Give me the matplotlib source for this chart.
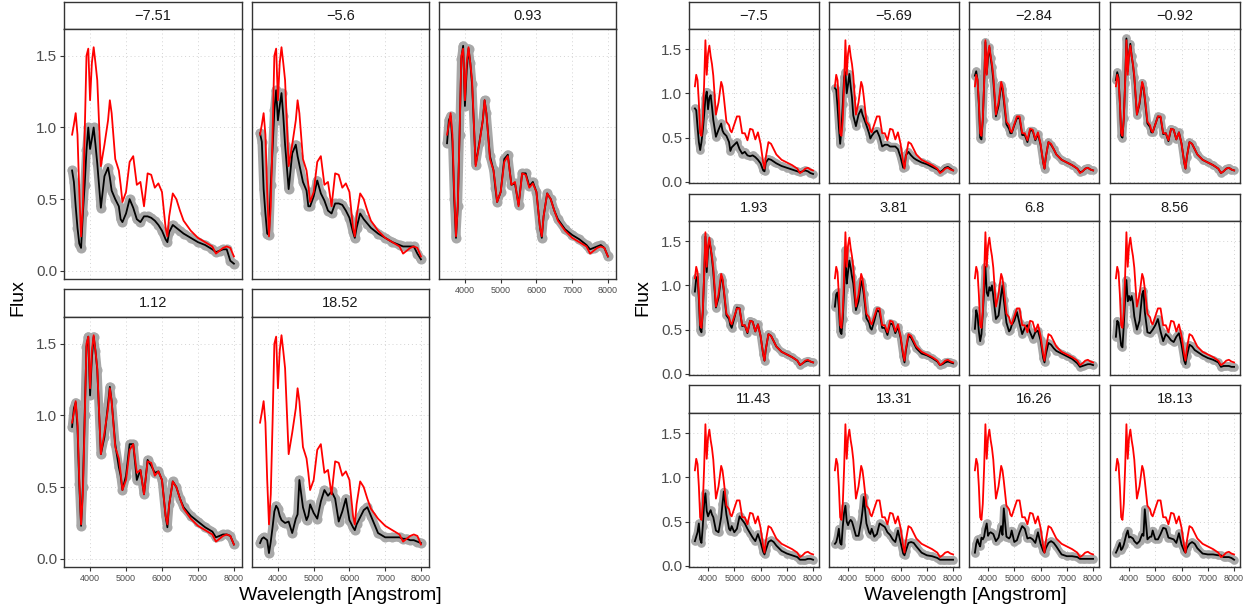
import matplotlib.pyplot as plt

plt.rcParams['font.family'] = ['Liberation Sans', 'DejaVu Sans']

# wavelength grid shared by every spectrum (Angstrom)
wave = [3500, 3550, 3600, 3650, 3700, 3750, 3800, 3850, 3900, 3950,
        4000, 4050, 4100, 4150, 4200, 4300, 4400, 4500, 4550, 4600,
        4700, 4800, 4850, 4900, 5000, 5100, 5200, 5300, 5400, 5500,
        5600, 5700, 5800, 5900, 6000, 6100, 6150, 6200, 6300, 6400,
        6500, 6600, 6800, 7000, 7200, 7400, 7500, 7600, 7700, 7800,
        7900, 8000]

# template spectra (red)
model_left = [0.95, 1.02, 1.10, 0.95, 0.55, 0.24, 0.45, 0.95, 1.50, 1.55,
              1.19, 1.45, 1.56, 1.45, 1.33, 0.73, 0.88, 1.05, 1.19, 1.10,
              0.78, 0.70, 0.60, 0.48, 0.55, 0.76, 0.80, 0.60, 0.62, 0.45,
              0.68, 0.67, 0.58, 0.61, 0.55, 0.30, 0.24, 0.38, 0.54, 0.50,
              0.42, 0.35, 0.28, 0.23, 0.20, 0.17, 0.12, 0.14, 0.16, 0.17,
              0.16, 0.10]

model_right = [1.08, 1.21, 1.15, 0.90, 0.55, 0.52, 0.70, 1.10, 1.60, 1.21,
               1.45, 1.54, 1.42, 1.33, 1.20, 0.76, 0.90, 1.13, 1.08, 0.96,
               0.68, 0.64, 0.58, 0.56, 0.65, 0.74, 0.74, 0.55, 0.55, 0.47,
               0.60, 0.59, 0.48, 0.56, 0.43, 0.22, 0.15, 0.28, 0.45, 0.43,
               0.37, 0.31, 0.25, 0.22, 0.19, 0.15, 0.10, 0.12, 0.15, 0.16,
               0.14, 0.13]

# observed spectra, left set
obs_m751 = [0.70, 0.62, 0.45, 0.30, 0.19, 0.16, 0.40, 0.60, 0.84, 1.00,
            0.85, 0.92, 1.00, 0.88, 0.75, 0.44, 0.66, 0.72, 0.65, 0.56,
            0.50, 0.45, 0.36, 0.34, 0.40, 0.50, 0.44, 0.36, 0.34, 0.38,
            0.38, 0.37, 0.35, 0.32, 0.28, 0.22, 0.20, 0.27, 0.32, 0.30,
            0.28, 0.26, 0.23, 0.20, 0.18, 0.15, 0.13, 0.14, 0.15, 0.15,
            0.07, 0.05]
obs_m56 = [0.96, 0.90, 0.57, 0.40, 0.26, 0.25, 0.60, 0.85, 1.12, 1.26,
           1.05, 1.15, 1.24, 1.08, 0.88, 0.57, 0.82, 0.88, 0.80, 0.74,
           0.62, 0.56, 0.45, 0.45, 0.52, 0.63, 0.54, 0.49, 0.42, 0.40,
           0.47, 0.47, 0.46, 0.42, 0.37, 0.27, 0.23, 0.30, 0.40, 0.36,
           0.33, 0.30, 0.26, 0.23, 0.20, 0.18, 0.17, 0.17, 0.17, 0.17,
           0.12, 0.08]
obs_093 = [0.89, 1.05, 1.08, 0.90, 0.50, 0.23, 0.45, 0.95, 1.48, 1.57,
           1.15, 1.40, 1.55, 1.45, 1.30, 0.74, 0.89, 1.05, 1.19, 1.10,
           0.80, 0.70, 0.58, 0.48, 0.55, 0.78, 0.81, 0.60, 0.61, 0.46,
           0.68, 0.68, 0.59, 0.62, 0.55, 0.30, 0.23, 0.38, 0.54, 0.50,
           0.42, 0.36, 0.29, 0.25, 0.22, 0.18, 0.15, 0.16, 0.17, 0.18,
           0.16, 0.10]
obs_112 = [0.92, 1.05, 1.09, 0.92, 0.52, 0.23, 0.50, 1.00, 1.48, 1.55,
           1.14, 1.40, 1.55, 1.45, 1.32, 0.73, 0.85, 1.08, 1.20, 1.10,
           0.80, 0.64, 0.58, 0.48, 0.58, 0.80, 0.80, 0.55, 0.62, 0.45,
           0.69, 0.65, 0.60, 0.61, 0.55, 0.30, 0.22, 0.38, 0.54, 0.50,
           0.42, 0.36, 0.30, 0.26, 0.22, 0.19, 0.15, 0.16, 0.17, 0.17,
           0.16, 0.10]
obs_1852 = [0.11, 0.14, 0.15, 0.14, 0.13, 0.04, 0.12, 0.22, 0.33, 0.37,
            0.35, 0.30, 0.27, 0.26, 0.25, 0.26, 0.18, 0.28, 0.31, 0.55,
            0.36, 0.27, 0.30, 0.38, 0.32, 0.28, 0.40, 0.48, 0.44, 0.47,
            0.42, 0.26, 0.33, 0.42, 0.27, 0.22, 0.20, 0.24, 0.29, 0.34,
            0.36, 0.30, 0.18, 0.15, 0.15, 0.15, 0.14, 0.14, 0.13, 0.13,
            0.12, 0.11]

# observed spectra, right set
obs_m75 = [0.83, 0.81, 0.62, 0.45, 0.36, 0.45, 0.58, 0.75, 0.95, 1.02,
           0.82, 0.95, 0.98, 0.85, 0.70, 0.51, 0.59, 0.66, 0.58, 0.55,
           0.52, 0.45, 0.35, 0.39, 0.42, 0.45, 0.37, 0.32, 0.34, 0.30,
           0.29, 0.30, 0.28, 0.25, 0.21, 0.13, 0.12, 0.22, 0.26, 0.25,
           0.23, 0.21, 0.18, 0.16, 0.14, 0.12, 0.11, 0.12, 0.13, 0.12,
           0.10, 0.09]
obs_m569 = [1.06, 1.04, 0.85, 0.62, 0.43, 0.60, 0.88, 1.18, 1.24, 1.00,
            1.10, 1.22, 1.08, 0.95, 0.75, 0.63, 0.76, 0.82, 0.76, 0.72,
            0.64, 0.55, 0.49, 0.52, 0.56, 0.58, 0.51, 0.40, 0.42, 0.42,
            0.40, 0.40, 0.40, 0.37, 0.28, 0.16, 0.17, 0.30, 0.34, 0.30,
            0.27, 0.25, 0.22, 0.20, 0.17, 0.14, 0.11, 0.13, 0.16, 0.17,
            0.15, 0.13]
obs_m284 = [1.20, 1.25, 1.15, 0.88, 0.50, 0.48, 0.70, 1.10, 1.58, 1.22,
            1.40, 1.52, 1.40, 1.30, 1.15, 0.74, 0.86, 1.10, 1.05, 0.92,
            0.65, 0.60, 0.55, 0.55, 0.64, 0.72, 0.72, 0.53, 0.53, 0.45,
            0.58, 0.58, 0.47, 0.54, 0.42, 0.22, 0.15, 0.28, 0.45, 0.42,
            0.37, 0.31, 0.25, 0.22, 0.19, 0.15, 0.11, 0.12, 0.15, 0.16,
            0.14, 0.13]
obs_m092 = [1.15, 1.24, 1.18, 0.90, 0.52, 0.50, 0.72, 1.12, 1.62, 1.25,
            1.45, 1.56, 1.42, 1.32, 1.18, 0.76, 0.88, 1.12, 1.06, 0.94,
            0.66, 0.62, 0.56, 0.56, 0.65, 0.74, 0.73, 0.54, 0.55, 0.46,
            0.60, 0.59, 0.48, 0.56, 0.43, 0.22, 0.15, 0.28, 0.45, 0.43,
            0.37, 0.31, 0.25, 0.22, 0.19, 0.15, 0.10, 0.12, 0.15, 0.16,
            0.14, 0.13]
obs_193 = [0.93, 1.08, 1.10, 0.85, 0.50, 0.47, 0.70, 1.10, 1.55, 1.15,
           1.40, 1.50, 1.42, 1.30, 1.15, 0.75, 0.86, 1.10, 1.06, 0.94,
           0.66, 0.62, 0.55, 0.52, 0.63, 0.75, 0.74, 0.54, 0.55, 0.46,
           0.60, 0.59, 0.48, 0.56, 0.43, 0.22, 0.15, 0.28, 0.45, 0.43,
           0.37, 0.31, 0.25, 0.22, 0.19, 0.15, 0.10, 0.12, 0.14, 0.15,
           0.14, 0.13]
obs_381 = [0.76, 0.90, 0.92, 0.75, 0.48, 0.45, 0.62, 0.95, 1.40, 1.02,
           1.15, 1.28, 1.20, 1.10, 1.02, 0.72, 0.82, 1.05, 1.00, 0.90,
           0.63, 0.58, 0.52, 0.50, 0.60, 0.72, 0.70, 0.52, 0.52, 0.44,
           0.57, 0.56, 0.46, 0.53, 0.41, 0.20, 0.13, 0.26, 0.43, 0.41,
           0.35, 0.29, 0.23, 0.21, 0.18, 0.14, 0.10, 0.11, 0.13, 0.14,
           0.13, 0.12]
obs_68 = [0.51, 0.72, 0.66, 0.48, 0.37, 0.45, 0.68, 0.95, 1.21, 0.92,
          0.88, 0.98, 0.94, 1.00, 0.88, 0.62, 0.66, 0.90, 1.00, 0.84,
          0.58, 0.48, 0.50, 0.55, 0.60, 0.70, 0.57, 0.45, 0.52, 0.55,
          0.47, 0.40, 0.47, 0.49, 0.38, 0.18, 0.13, 0.22, 0.35, 0.33,
          0.29, 0.26, 0.23, 0.20, 0.17, 0.12, 0.08, 0.09, 0.10, 0.11,
          0.11, 0.10]
obs_856 = [0.42, 0.60, 0.58, 0.45, 0.32, 0.30, 0.55, 0.85, 1.06, 0.82,
           0.88, 0.83, 0.88, 0.80, 0.65, 0.50, 0.60, 0.90, 0.94, 0.70,
           0.47, 0.46, 0.48, 0.50, 0.55, 0.62, 0.48, 0.37, 0.45, 0.42,
           0.38, 0.36, 0.42, 0.46, 0.33, 0.15, 0.11, 0.20, 0.33, 0.31,
           0.27, 0.25, 0.21, 0.18, 0.16, 0.13, 0.08, 0.09, 0.09, 0.09,
           0.08, 0.08]
obs_1143 = [0.28, 0.33, 0.38, 0.48, 0.30, 0.26, 0.45, 0.70, 0.82, 0.62,
            0.56, 0.60, 0.63, 0.58, 0.55, 0.40, 0.38, 0.55, 0.70, 0.84,
            0.58, 0.42, 0.40, 0.45, 0.38, 0.42, 0.56, 0.52, 0.48, 0.42,
            0.37, 0.32, 0.28, 0.36, 0.27, 0.16, 0.13, 0.18, 0.27, 0.29,
            0.27, 0.23, 0.17, 0.14, 0.12, 0.10, 0.07, 0.07, 0.07, 0.08,
            0.08, 0.07]
obs_1331 = [0.25, 0.27, 0.33, 0.42, 0.26, 0.24, 0.45, 0.60, 0.68, 0.50,
            0.46, 0.50, 0.52, 0.50, 0.45, 0.34, 0.34, 0.50, 0.62, 0.78,
            0.48, 0.38, 0.36, 0.42, 0.33, 0.36, 0.48, 0.46, 0.44, 0.38,
            0.35, 0.30, 0.27, 0.40, 0.27, 0.14, 0.12, 0.17, 0.26, 0.27,
            0.26, 0.22, 0.15, 0.12, 0.11, 0.09, 0.07, 0.07, 0.07, 0.07,
            0.07, 0.07]
obs_1626 = [0.15, 0.25, 0.30, 0.25, 0.22, 0.32, 0.30, 0.33, 0.42, 0.48,
            0.34, 0.37, 0.38, 0.37, 0.36, 0.28, 0.32, 0.45, 0.35, 0.65,
            0.33, 0.31, 0.33, 0.40, 0.27, 0.29, 0.38, 0.45, 0.42, 0.31,
            0.32, 0.30, 0.26, 0.38, 0.25, 0.17, 0.15, 0.20, 0.26, 0.28,
            0.26, 0.22, 0.13, 0.11, 0.11, 0.10, 0.08, 0.08, 0.08, 0.08,
            0.08, 0.08]
obs_1813 = [0.15, 0.18, 0.22, 0.26, 0.18, 0.20, 0.24, 0.30, 0.36, 0.40,
            0.32, 0.33, 0.32, 0.31, 0.28, 0.25, 0.28, 0.36, 0.34, 0.64,
            0.30, 0.33, 0.33, 0.40, 0.30, 0.30, 0.36, 0.43, 0.42, 0.32,
            0.31, 0.30, 0.26, 0.37, 0.24, 0.17, 0.15, 0.20, 0.25, 0.27,
            0.25, 0.20, 0.14, 0.13, 0.13, 0.12, 0.12, 0.10, 0.10, 0.10,
            0.09, 0.07]

left_labels = ['\u22127.51', '\u22125.6', '0.93', '1.12', '18.52']
left_obs = [obs_m751, obs_m56, obs_093, obs_112, obs_1852]
right_labels = ['\u22127.5', '\u22125.69', '\u22122.84', '\u22120.92',
                '1.93', '3.81', '6.8', '8.56',
                '11.43', '13.31', '16.26', '18.13']
right_obs = [obs_m75, obs_m569, obs_m284, obs_m092, obs_193, obs_381,
             obs_68, obs_856, obs_1143, obs_1331, obs_1626, obs_1813]

W, H = 1251, 613
fig = plt.figure(figsize=(W / 100, H / 100), dpi=100)

BORDER = '#333333'
TEXT = '#4d4d4d'
GREY = '#a8a8a8'


def box(x0, y0, x1, y1):
    return [x0 / W, 1 - y1 / H, (x1 - x0) / W, (y1 - y0) / H]


def facet(x0, x1, y_strip, y_top, y_bot, label, obs, model, ylim,
          show_y, show_x, msize):
    strip = fig.add_axes(box(x0, y_strip, x1, y_top))
    strip.set_xticks([])
    strip.set_yticks([])
    for s in strip.spines.values():
        s.set_color(BORDER)
        s.set_linewidth(1.0)
    strip.text(0.5, 0.5, label, ha='center', va='center', fontsize=10.5,
               color='#1a1a1a', transform=strip.transAxes)

    ax = fig.add_axes(box(x0, y_top, x1, y_bot))
    # observed points: fat grey band with the points on it
    ax.plot(wave, obs, color=GREY, lw=msize, solid_capstyle='round',
            solid_joinstyle='round', zorder=2)
    ax.plot(wave, obs, 'o', color=GREY, ms=msize * 1.15, mec='none', zorder=2)
    ax.plot(wave, obs, color='black', lw=1.3, zorder=3)
    ax.plot(wave, model, color='red', lw=1.3, zorder=4)
    ax.set_xlim(3275, 8225)
    ax.set_ylim(*ylim)
    ax.set_xticks([4000, 5000, 6000, 7000, 8000])
    ax.set_yticks([0.0, 0.5, 1.0, 1.5])
    ax.grid(True, color='#d4d4d4', lw=0.7, ls=(0, (1, 3)), zorder=0)
    for s in ax.spines.values():
        s.set_color(BORDER)
        s.set_linewidth(1.0)
    ax.tick_params(colors=BORDER, length=3, width=0.8, pad=2)
    ax.tick_params(axis='x', labelsize=6.5, labelcolor=TEXT,
                   labelbottom=show_x, bottom=show_x)
    ax.tick_params(axis='y', labelsize=11, labelcolor=TEXT,
                   labelleft=show_y, left=show_y)
    if show_y:
        ax.set_yticklabels(['0.0', '0.5', '1.0', '1.5'])
    return ax


# left block: 3 columns x 2 rows
left_cols = [(64, 242), (252, 429), (439, 616)]
left_rows = [(2, 29, 279), (289, 317, 567)]
for i, (label, obs) in enumerate(zip(left_labels, left_obs)):
    r, c = divmod(i, 3)
    x0, x1 = left_cols[c]
    ys, yt, yb = left_rows[r]
    show_x = (r == 1) or (c == 2)
    facet(x0, x1, ys, yt, yb, label, obs, model_left, (-0.057, 1.687),
          c == 0, show_x, 6.3)

# right block: 4 columns x 3 rows
right_cols = [(689, 819), (829, 959), (969, 1099), (1110, 1240)]
right_rows = [(2, 29, 183), (194, 221, 375), (385, 413, 567)]
for i, (label, obs) in enumerate(zip(right_labels, right_obs)):
    r, c = divmod(i, 4)
    x0, x1 = right_cols[c]
    ys, yt, yb = right_rows[r]
    facet(x0, x1, ys, yt, yb, label, obs, model_right, (-0.012, 1.727),
          c == 0, r == 2, 5.4)

# axis titles
for xc, xf in [(340, 18), (965, 643)]:
    fig.text(xc / W, 1 - 596 / H, 'Wavelength [Angstrom]', ha='center',
             va='center', fontsize=14, color='black')
    fig.text(xf / W, 1 - 298 / H, 'Flux', ha='center', va='center',
             rotation=90, fontsize=14, color='black')

fig.savefig('out.png', dpi=100)
